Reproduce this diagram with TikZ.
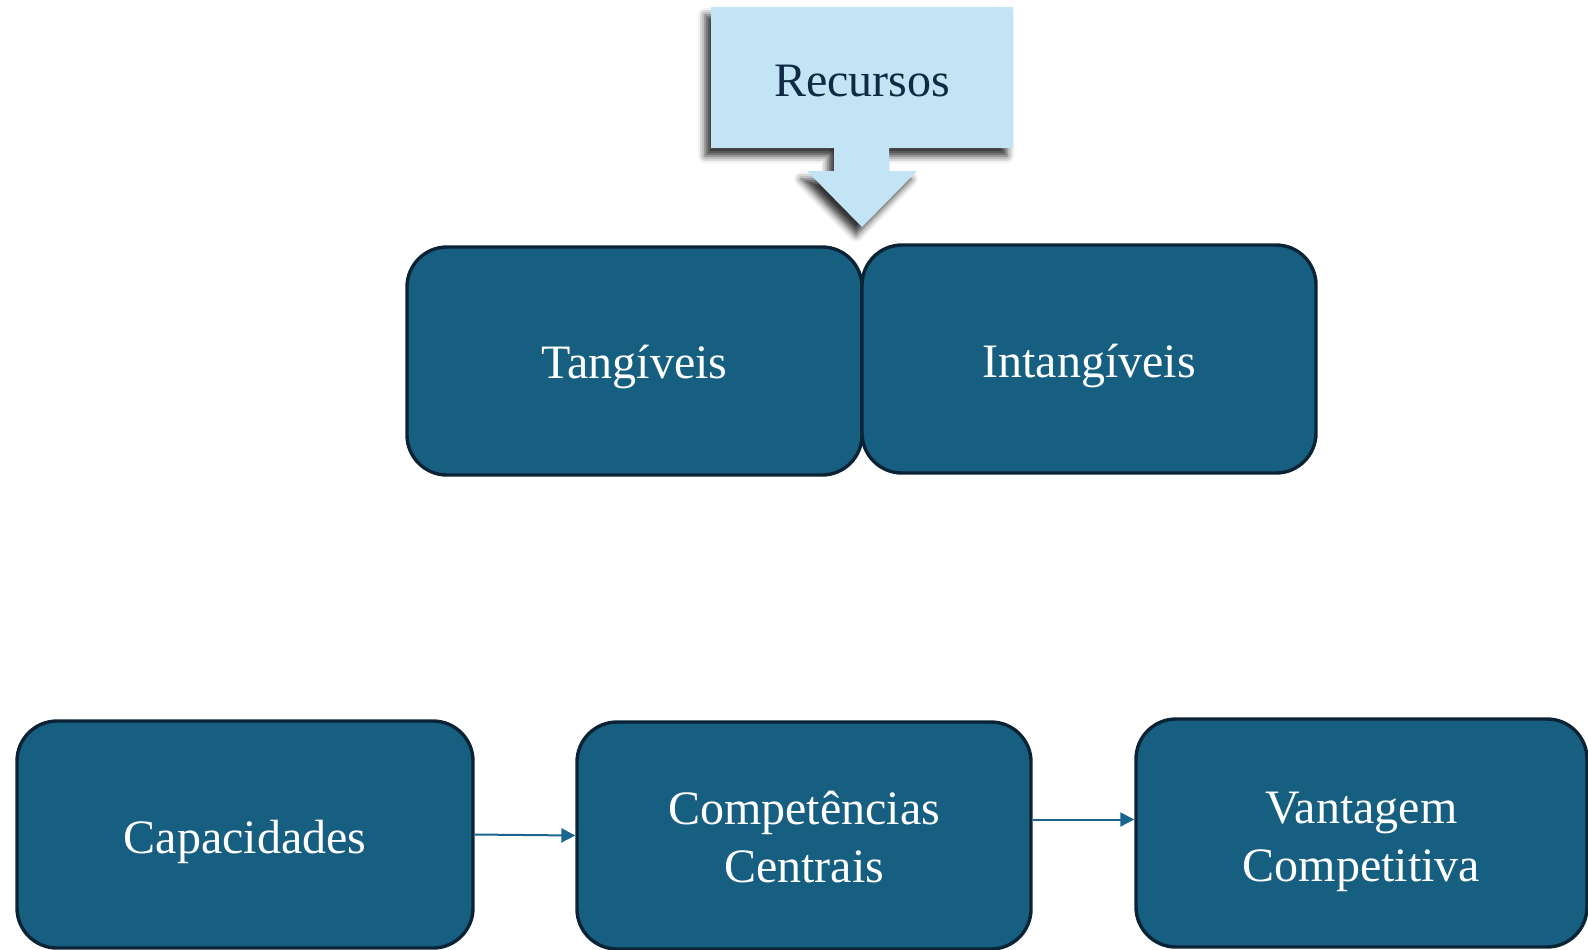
\documentclass[tikz,border=0pt]{standalone}
\usepackage{fontspec}
\setmainfont{Liberation Serif}
\usetikzlibrary{arrows.meta,shadows.blur}
\definecolor{boxfill}{HTML}{175F81}
\definecolor{boxline}{HTML}{0B2335}
\definecolor{callfill}{HTML}{C2E4F4}
\definecolor{calltext}{HTML}{102A43}
\definecolor{arrcol}{HTML}{1B6690}
\tikzset{
  bluebox/.style={draw=boxline, fill=boxfill, line width=1.7pt, rounded corners=20pt, inner sep=0pt},
  boxtext/.style={text=white, font=\fontsize{24}{29}\selectfont, align=center, inner sep=0pt},
  conn/.style={draw=arrcol, line width=1pt, -{Triangle[length=7pt,width=7pt]}}
}
\begin{document}
\begin{tikzpicture}[x=0.5pt,y=-0.5pt]
\useasboundingbox (0,0) rectangle (1588,949);
% callout
\path[fill=callfill, blur shadow={shadow xshift=-3pt, shadow yshift=-4pt, shadow blur radius=3.5pt, shadow opacity=80}]
  (711,7) -- (1013,7) -- (1013,148) -- (889,148) -- (889,171) -- (917,171) -- (862,227)
  -- (807,171) -- (834,171) -- (834,148) -- (711,148) -- cycle;
\node[text=calltext, font=\fontsize{24}{29}\selectfont] (rec) at (862,81) {Recursos};
% boxes
\node[bluebox, minimum width=227.5pt, minimum height=114pt] (tang) at (634.5,361) {};
\node[bluebox, minimum width=227pt, minimum height=114pt] (intang) at (1089,359) {};
\node[bluebox, minimum width=228pt, minimum height=113.5pt] (cap) at (245,834.5) {};
\node[bluebox, minimum width=227pt, minimum height=113.5pt] (comp) at (804,835.5) {};
\node[bluebox, minimum width=225.5pt, minimum height=114pt] (vant) at (1361.5,833) {};
% texts
\node[boxtext] (tangT) at ([yshift=-3pt]tang.center) {Tangíveis};
\node[boxtext] (intangT) at ([yshift=-3.5pt]intang.center) {Intangíveis};
\node[boxtext] (capT) at ([yshift=-3.5pt]cap.center) {Capacidades};
\node[boxtext] (compT) at ([yshift=-1pt]comp.center) {Competências\\Centrais};
\node[boxtext] (vantT) at ([yshift=-4.5pt]vant.center) {Vantagem\\Competitiva};
% connectors
\draw[conn] (cap.east) -- (comp.west);
\draw[conn] ([yshift=8pt]comp.east) -- ([yshift=8pt]comp.east -| vant.west);
\end{tikzpicture}
\end{document}
